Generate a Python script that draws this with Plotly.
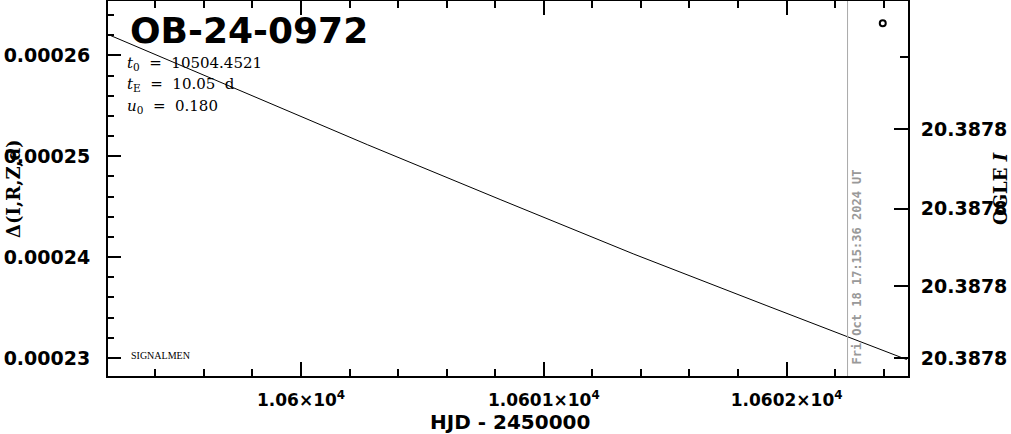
import plotly.graph_objects as go

# ---- data ----
model_hjd = [10599.215, 10599.721, 10600.273, 10600.820, 10601.368, 10601.919, 10602.248, 10602.495]
model_flux = [0.00026198, 0.00025679, 0.00025115, 0.00024571, 0.00024032, 0.00023517, 0.00023211, 0.00022983]

obs_hjd = [10602.396]
obs_flux = [0.0002632]

now_hjd = 10602.251
now_label = "Fri Oct 18 17:15:36 2024 UT"

x_tick_vals = [10600, 10601, 10602]
x_tick_text = ["1.06×10<sup>4</sup>", "1.0601×10<sup>4</sup>", "1.0602×10<sup>4</sup>"]
y_tick_vals = [0.00023, 0.00024, 0.00025, 0.00026]
y_tick_text = ["0.00023", "0.00024", "0.00025", "0.00026"]
right_tick_vals = [0.0002300, 0.0002371, 0.0002448, 0.0002527]
right_tick_text = ["20.3878", "20.3878", "20.3878", "20.3878"]
right_minor_vals = [0.0002598]

x_range = [10599.205, 10602.5]
y_range = [0.0002282, 0.0002654]

event_name = "OB-24-0972"
param_lines = [
    "<i>t</i><sub>0</sub>  =  10504.4521",
    "<i>t</i><sub>E</sub>  =  10.05  d",
    "<i>u</i><sub>0</sub>  =  0.180",
]

# ---- figure ----
W, H = 1011, 434
L, R, T, B = 108, 103, 1, 58
pw, ph = W - L - R, H - T - B


def px(xp):
    return (xp - L) / pw


def py(yp):
    return (H - B - yp) / ph


fig = go.Figure()
fig.add_trace(go.Scatter(x=model_hjd, y=model_flux, mode="lines",
                         line=dict(color="black", width=1), showlegend=False,
                         hoverinfo="skip"))
fig.add_trace(go.Scatter(x=obs_hjd, y=obs_flux, mode="markers",
                         marker=dict(symbol="circle-open", size=6, color="black",
                                     line=dict(width=2, color="black")),
                         showlegend=False))
# invisible trace to activate the right axis
fig.add_trace(go.Scatter(x=[x_range[0]], y=[y_range[0]], yaxis="y2", mode="markers",
                         marker=dict(opacity=0), showlegend=False, hoverinfo="skip"))

fig.add_shape(type="line", x0=now_hjd, x1=now_hjd, y0=0, y1=1, xref="x", yref="paper",
              line=dict(color="#aaaaaa", width=1))

tickfont = dict(family="DejaVu Sans", size=19, color="black", weight="bold")

fig.update_layout(
    width=W, height=H,
    margin=dict(l=L, r=R, t=T, b=B, autoexpand=False),
    paper_bgcolor="white", plot_bgcolor="white",
    xaxis=dict(range=x_range, showgrid=False, zeroline=False,
               showline=True, linecolor="black", linewidth=2, mirror="ticks",
               ticks="inside", ticklen=14, tickwidth=2, tickcolor="black",
               tickmode="array", tickvals=x_tick_vals, ticktext=x_tick_text,
               tickfont=dict(family="DejaVu Sans", size=17, color="black", weight="bold"),
               ticklabelstandoff=8,
               minor=dict(tick0=10600, dtick=0.2, ticks="inside", ticklen=7,
                          tickwidth=2, tickcolor="black", showgrid=False)),
    yaxis=dict(range=y_range, showgrid=False, zeroline=False,
               showline=True, linecolor="black", linewidth=2, mirror=False,
               ticks="inside", ticklen=13, tickwidth=2, tickcolor="black",
               tickmode="array", tickvals=y_tick_vals, ticktext=y_tick_text,
               tickfont=tickfont, ticklabelstandoff=12,
               minor=dict(tick0=0.00023, dtick=0.000002, ticks="inside", ticklen=6,
                          tickwidth=2, tickcolor="black", showgrid=False)),
    yaxis2=dict(range=y_range, overlaying="y", side="right", showgrid=False,
                zeroline=False, showline=True, linecolor="black", linewidth=2,
                ticks="inside", ticklen=14, tickwidth=2, tickcolor="black",
                tickmode="array", tickvals=right_tick_vals, ticktext=right_tick_text,
                tickfont=tickfont, ticklabelstandoff=7,
                minor=dict(tickmode="array", tickvals=right_minor_vals, ticks="inside",
                           ticklen=8, tickwidth=2, tickcolor="black", showgrid=False)),
)

ann = []
ann.append(dict(text=event_name, x=px(128), y=py(31), xref="paper", yref="paper",
                xanchor="left", yanchor="middle", showarrow=False,
                font=dict(family="DejaVu Sans", size=36, color="black", weight="bold")))
for i, t in enumerate(param_lines):
    ann.append(dict(text=t, x=px(125), y=py([63, 85, 107][i]), xref="paper", yref="paper",
                    xanchor="left", yanchor="middle", showarrow=False,
                    font=dict(family="DejaVu Serif", size=15, color="black")))
ann.append(dict(text="SIGNALMEN", x=px(129), y=py(355), xref="paper", yref="paper",
                xanchor="left", yanchor="middle", showarrow=False,
                font=dict(family="Liberation Serif", size=10, color="black")))
ann.append(dict(text=now_label, x=now_hjd, xshift=9, y=py(267), xref="x", yref="paper",
                xanchor="center", yanchor="middle", showarrow=False, textangle=-90,
                font=dict(family="DejaVu Sans Mono", size=12, color="#999999", weight="bold")))
ann.append(dict(text="Δ(I,R,Z,d)", x=px(13), y=py(189), xref="paper", yref="paper",
                xanchor="center", yanchor="middle", showarrow=False, textangle=-90,
                font=dict(family="DejaVu Serif", size=18, color="black", weight="bold")))
ann.append(dict(text="OGLE <i>I</i>", x=px(1000), y=py(189), xref="paper", yref="paper",
                xanchor="center", yanchor="middle", showarrow=False, textangle=-90,
                font=dict(family="DejaVu Serif", size=18, color="black", weight="bold")))
ann.append(dict(text="HJD - 2450000", x=px(510), y=py(422), xref="paper", yref="paper",
                xanchor="center", yanchor="middle", showarrow=False,
                font=dict(family="DejaVu Sans", size=20, color="black", weight="bold")))
fig.update_layout(annotations=ann)

fig.write_html("out.html", config={"displayModeBar": False},
               post_script="document.body.style.margin='0';document.body.style.padding='0';")
